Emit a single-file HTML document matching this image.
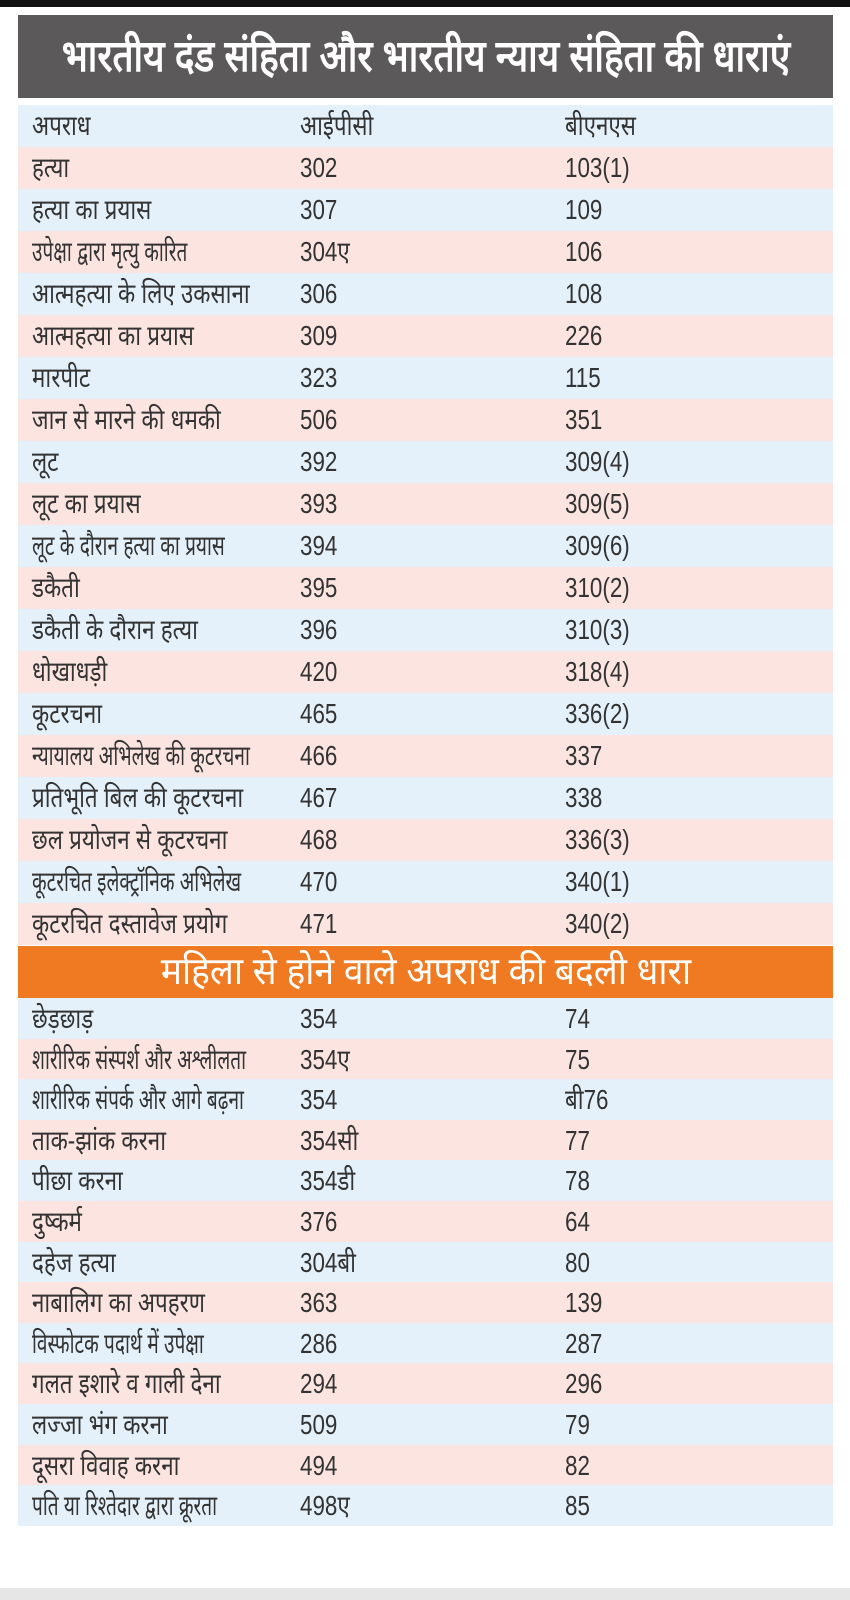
<!DOCTYPE html>
<html><head><meta charset="utf-8"><style>
body{margin:0;width:850px;height:1600px;background:#fff;position:relative;overflow:hidden;font-family:"Liberation Sans","Noto Sans CJK SC",sans-serif;color:#333}
.top{position:absolute;left:0;top:0;width:850px;height:7px;background:#111}
.bot{position:absolute;left:0;top:1588px;width:850px;height:12px;background:#e6e6e6}
.title{position:absolute;left:18px;top:15px;width:815px;height:83px;background:#5b5959;color:#fff;line-height:83px;white-space:nowrap;overflow:hidden}
.title span{position:absolute;left:50%;top:0;font-size:44px;font-weight:bold;transform:translateX(-50%) scaleX(0.84)}
.or{position:absolute;left:18px;top:946px;width:815px;height:52px;background:#f07a22;color:#fff;line-height:52px;white-space:nowrap;overflow:hidden}
.or span{position:absolute;left:50%;top:0;font-size:38px;transform:translateX(-50%) scaleX(0.93)}
.r{position:absolute;left:18px;width:815px;font-size:28px;white-space:nowrap}
.r span{position:absolute;transform:scaleX(0.8);transform-origin:left center}
.a{left:14px}.b{left:282px}.c{left:547px}
.bl{background:#e4f1fb}.pk{background:#fce5e0}
</style></head><body>
<div class="top"></div>
<div class="title"><span>भारतीय दंड संहिता और भारतीय न्याय संहिता की धाराएं</span></div>
<div id="t1"></div>
<div class="or"><span>महिला से होने वाले अपराध की बदली धारा</span></div>
<div class="bot"></div>
<script>
var a=[["अपराध","आईपीसी","बीएनएस"],["हत्या","302","103(1)"],["हत्या का प्रयास","307","109"],["उपेक्षा द्वारा मृत्यु कारित","304ए","106"],["आत्महत्या के लिए उकसाना","306","108"],["आत्महत्या का प्रयास","309","226"],["मारपीट","323","115"],["जान से मारने की धमकी","506","351"],["लूट","392","309(4)"],["लूट का प्रयास","393","309(5)"],["लूट के दौरान हत्या का प्रयास","394","309(6)"],["डकैती","395","310(2)"],["डकैती के दौरान हत्या","396","310(3)"],["धोखाधड़ी","420","318(4)"],["कूटरचना","465","336(2)"],["न्यायालय अभिलेख की कूटरचना","466","337"],["प्रतिभूति बिल की कूटरचना","467","338"],["छल प्रयोजन से कूटरचना","468","336(3)"],["कूटरचित इलेक्ट्रॉनिक अभिलेख","470","340(1)"],["कूटरचित दस्तावेज प्रयोग","471","340(2)"]];
var b=[["छेड़छाड़","354","74"],["शारीरिक संस्पर्श और अश्लीलता","354ए","75"],["शारीरिक संपर्क और आगे बढ़ना","354","बी76"],["ताक-झांक करना","354सी","77"],["पीछा करना","354डी","78"],["दुष्कर्म","376","64"],["दहेज हत्या","304बी","80"],["नाबालिग का अपहरण","363","139"],["विस्फोटक पदार्थ में उपेक्षा","286","287"],["गलत इशारे व गाली देना","294","296"],["लज्जा भंग करना","509","79"],["दूसरा विवाह करना","494","82"],["पति या रिश्तेदार द्वारा क्रूरता","498ए","85"]];
var h="";
function row(r,top,ht,cls){var s=r[0].length>24?' style="transform:scaleX(0.68)"':'';return '<div class="r '+cls+'" style="top:'+top+'px;height:'+ht+'px;line-height:'+ht+'px"><span class="a"'+s+'>'+r[0]+'</span><span class="b">'+r[1]+'</span><span class="c">'+r[2]+'</span></div>';}
a.forEach(function(r,i){h+=row(r,Math.round(105+i*42),42,i%2?"pk":"bl");});
b.forEach(function(r,i){h+=row(r,Math.round(998+i*40.6),41,i%2?"pk":"bl");});
document.getElementById("t1").innerHTML=h;
</script>
</body></html>
